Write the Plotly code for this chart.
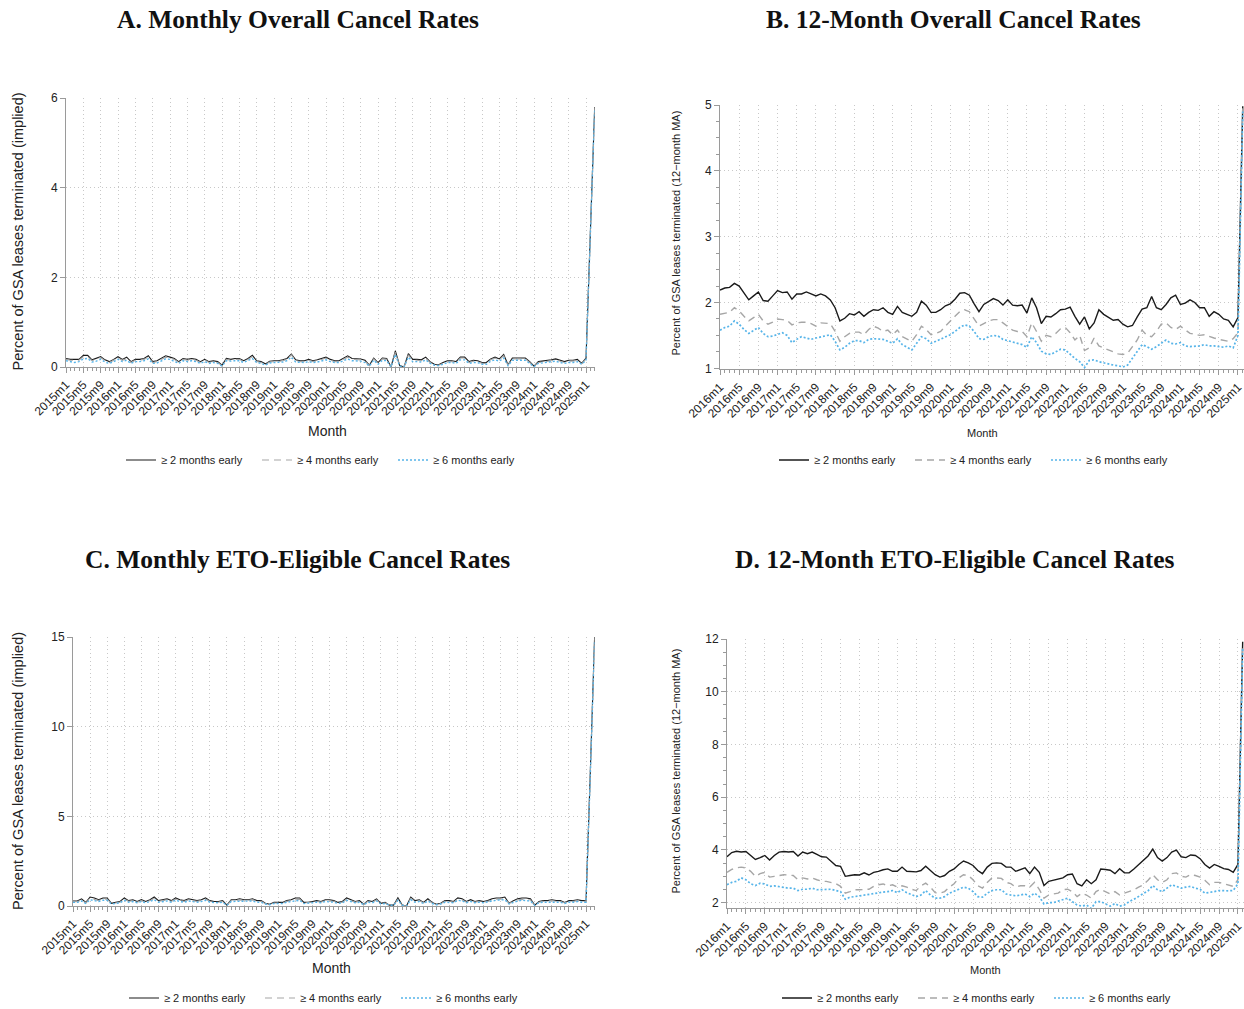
import plotly.graph_objects as go

W, H = 1244, 1009

# ---------------- data ----------------
SERIES_NAMES = ["≥ 2 months early", "≥ 4 months early", "≥ 6 months early"]

A_START = "2015m1"
A_TICKS = ["2015m1", "2015m5", "2015m9", "2016m1", "2016m5", "2016m9", "2017m1", "2017m5", "2017m9",
           "2018m1", "2018m5", "2018m9", "2019m1", "2019m5", "2019m9", "2020m1", "2020m5", "2020m9",
           "2021m1", "2021m5", "2021m9", "2022m1", "2022m5", "2022m9", "2023m1", "2023m5", "2023m9",
           "2024m1", "2024m5", "2024m9", "2025m1"]
B_START = "2016m1"
B_TICKS = ["2016m1", "2016m5", "2016m9", "2017m1", "2017m5", "2017m9",
           "2018m1", "2018m5", "2018m9", "2019m1", "2019m5", "2019m9", "2020m1", "2020m5", "2020m9",
           "2021m1", "2021m5", "2021m9", "2022m1", "2022m5", "2022m9", "2023m1", "2023m5", "2023m9",
           "2024m1", "2024m5", "2024m9", "2025m1"]

# Panel A: monthly overall cancel rates (2015m1 - 2025m3)
a_2m = [0.19, 0.17, 0.17, 0.17, 0.26, 0.26, 0.16, 0.19, 0.23, 0.16, 0.12, 0.17,
        0.23, 0.17, 0.22, 0.12, 0.17, 0.17, 0.19, 0.25, 0.12, 0.14, 0.19, 0.25,
        0.22, 0.19, 0.12, 0.19, 0.17, 0.19, 0.17, 0.12, 0.17, 0.12, 0.14, 0.12,
        0.04, 0.19, 0.17, 0.19, 0.19, 0.14, 0.19, 0.26, 0.14, 0.12, 0.07, 0.13,
        0.14, 0.14, 0.16, 0.19, 0.29, 0.16, 0.14, 0.14, 0.17, 0.14, 0.16, 0.19,
        0.22, 0.17, 0.14, 0.14, 0.19, 0.25, 0.19, 0.19, 0.18, 0.15, 0.04, 0.20,
        0.10, 0.20, 0.19, 0.00, 0.36, 0.03, 0.00, 0.30, 0.17, 0.17, 0.16, 0.22,
        0.12, 0.06, 0.05, 0.10, 0.14, 0.14, 0.12, 0.22, 0.22, 0.12, 0.15, 0.14,
        0.10, 0.10, 0.18, 0.22, 0.18, 0.28, 0.05, 0.20, 0.20, 0.20, 0.20, 0.12,
        0.02, 0.12, 0.13, 0.14, 0.16, 0.18, 0.15, 0.12, 0.15, 0.15, 0.17, 0.08,
        0.20, 3.00, 5.80]
a_4m = [0.17, 0.15, 0.15, 0.15, 0.23, 0.23, 0.14, 0.17, 0.21, 0.14, 0.10, 0.15,
        0.20, 0.15, 0.19, 0.10, 0.15, 0.15, 0.17, 0.22, 0.10, 0.12, 0.17, 0.22,
        0.20, 0.17, 0.10, 0.17, 0.15, 0.17, 0.15, 0.10, 0.15, 0.10, 0.12, 0.10,
        0.03, 0.17, 0.15, 0.17, 0.17, 0.12, 0.17, 0.23, 0.12, 0.10, 0.06, 0.11,
        0.12, 0.12, 0.14, 0.17, 0.27, 0.14, 0.12, 0.12, 0.15, 0.12, 0.14, 0.17,
        0.20, 0.15, 0.12, 0.12, 0.17, 0.22, 0.17, 0.17, 0.16, 0.13, 0.03, 0.18,
        0.08, 0.18, 0.17, 0.00, 0.33, 0.02, 0.00, 0.27, 0.15, 0.15, 0.14, 0.20,
        0.10, 0.05, 0.04, 0.08, 0.12, 0.12, 0.10, 0.20, 0.20, 0.10, 0.13, 0.12,
        0.08, 0.08, 0.16, 0.20, 0.16, 0.25, 0.04, 0.18, 0.18, 0.18, 0.18, 0.10,
        0.02, 0.10, 0.11, 0.12, 0.14, 0.16, 0.13, 0.10, 0.13, 0.13, 0.15, 0.07,
        0.18, 2.98, 5.78]
a_6m = [0.14, 0.12, 0.10, 0.12, 0.18, 0.19, 0.11, 0.13, 0.17, 0.11, 0.08, 0.12,
        0.17, 0.12, 0.15, 0.08, 0.12, 0.12, 0.14, 0.18, 0.08, 0.09, 0.13, 0.18,
        0.17, 0.13, 0.08, 0.14, 0.12, 0.14, 0.12, 0.08, 0.12, 0.08, 0.10, 0.08,
        0.02, 0.14, 0.13, 0.14, 0.14, 0.10, 0.14, 0.19, 0.10, 0.08, 0.04, 0.09,
        0.10, 0.10, 0.11, 0.14, 0.22, 0.11, 0.10, 0.10, 0.12, 0.10, 0.11, 0.14,
        0.16, 0.12, 0.10, 0.10, 0.14, 0.18, 0.14, 0.14, 0.13, 0.10, 0.02, 0.15,
        0.06, 0.15, 0.14, 0.00, 0.28, 0.02, 0.00, 0.22, 0.12, 0.12, 0.11, 0.16,
        0.08, 0.04, 0.03, 0.06, 0.10, 0.10, 0.08, 0.16, 0.16, 0.08, 0.10, 0.10,
        0.06, 0.06, 0.13, 0.16, 0.13, 0.20, 0.03, 0.15, 0.15, 0.15, 0.15, 0.08,
        0.01, 0.08, 0.09, 0.10, 0.11, 0.13, 0.10, 0.08, 0.10, 0.10, 0.12, 0.06,
        0.15, 2.95, 5.75]

# Panel B: 12-month MA overall (2016m1 - 2025m2)
b_2m = [2.19, 2.22, 2.23, 2.29, 2.25, 2.14, 2.04, 2.10, 2.16, 2.03, 2.02, 2.10,
        2.18, 2.15, 2.16, 2.05, 2.13, 2.13, 2.16, 2.13, 2.10, 2.13, 2.10, 2.04,
        1.92, 1.72, 1.76, 1.83, 1.81, 1.86, 1.79, 1.85, 1.89, 1.88, 1.92, 1.85,
        1.82, 1.94, 1.85, 1.82, 1.79, 1.85, 2.02, 1.96, 1.85, 1.85, 1.89, 1.95,
        1.98, 2.05, 2.14, 2.15, 2.11, 1.98, 1.86, 1.97, 2.01, 2.06, 2.03, 1.96,
        2.04, 1.96, 1.95, 1.96, 1.84, 2.07, 1.92, 1.68, 1.79, 1.78, 1.83, 1.89,
        1.90, 1.93, 1.79, 1.67, 1.78, 1.60, 1.69, 1.89, 1.82, 1.78, 1.73, 1.74,
        1.67, 1.63, 1.65, 1.78, 1.90, 1.92, 2.09, 1.92, 1.89, 1.97, 2.07, 2.11,
        1.97, 1.99, 2.04, 2.00, 1.92, 1.92, 1.79, 1.86, 1.82, 1.75, 1.73, 1.63,
        1.77, 4.98]
b_4m = [1.82, 1.84, 1.85, 1.92, 1.87, 1.79, 1.72, 1.77, 1.82, 1.72, 1.67, 1.70,
        1.75, 1.74, 1.73, 1.66, 1.69, 1.70, 1.70, 1.68, 1.64, 1.69, 1.69, 1.68,
        1.56, 1.41, 1.48, 1.53, 1.55, 1.55, 1.51, 1.59, 1.64, 1.61, 1.56, 1.58,
        1.51, 1.58, 1.48, 1.44, 1.41, 1.51, 1.64, 1.59, 1.51, 1.53, 1.56, 1.64,
        1.72, 1.79, 1.86, 1.89, 1.86, 1.74, 1.64, 1.68, 1.72, 1.74, 1.74, 1.69,
        1.64, 1.58, 1.56, 1.56, 1.48, 1.69, 1.56, 1.41, 1.50, 1.48, 1.53, 1.60,
        1.62, 1.54, 1.43, 1.50, 1.27, 1.31, 1.46, 1.34, 1.31, 1.28, 1.26, 1.22,
        1.21, 1.23, 1.33, 1.43, 1.58, 1.50, 1.48, 1.56, 1.67, 1.69, 1.62, 1.59,
        1.64, 1.59, 1.53, 1.52, 1.50, 1.51, 1.48, 1.46, 1.44, 1.43, 1.41, 1.45,
        1.54, 4.95]
b_6m = [1.58, 1.62, 1.64, 1.72, 1.67, 1.59, 1.53, 1.57, 1.62, 1.53, 1.48, 1.49,
        1.51, 1.54, 1.50, 1.39, 1.44, 1.48, 1.46, 1.44, 1.46, 1.48, 1.50, 1.51,
        1.41, 1.28, 1.32, 1.38, 1.42, 1.42, 1.39, 1.44, 1.45, 1.45, 1.44, 1.41,
        1.38, 1.45, 1.36, 1.32, 1.28, 1.38, 1.48, 1.45, 1.38, 1.41, 1.44, 1.48,
        1.51, 1.56, 1.62, 1.66, 1.64, 1.56, 1.45, 1.44, 1.48, 1.50, 1.49, 1.44,
        1.42, 1.41, 1.38, 1.36, 1.32, 1.48, 1.39, 1.26, 1.22, 1.21, 1.25, 1.29,
        1.28, 1.21, 1.15, 1.10, 1.01, 1.12, 1.13, 1.10, 1.08, 1.06, 1.05, 1.04,
        1.02, 1.05, 1.15, 1.25, 1.36, 1.33, 1.29, 1.33, 1.38, 1.43, 1.38, 1.37,
        1.39, 1.34, 1.33, 1.33, 1.34, 1.36, 1.34, 1.34, 1.33, 1.32, 1.34, 1.31,
        1.50, 4.90]

# Panel C: monthly ETO-eligible cancel rates (2015m1 - 2025m3)
c_2m = [0.28, 0.28, 0.40, 0.20, 0.50, 0.45, 0.35, 0.45, 0.45, 0.15, 0.20, 0.25,
        0.45, 0.30, 0.35, 0.25, 0.35, 0.25, 0.35, 0.50, 0.30, 0.35, 0.40, 0.30,
        0.45, 0.35, 0.30, 0.40, 0.35, 0.30, 0.35, 0.45, 0.30, 0.25, 0.25, 0.30,
        0.05, 0.35, 0.35, 0.40, 0.35, 0.35, 0.40, 0.30, 0.30, 0.15, 0.10, 0.20,
        0.20, 0.20, 0.30, 0.35, 0.45, 0.45, 0.20, 0.20, 0.25, 0.30, 0.25, 0.35,
        0.35, 0.30, 0.20, 0.25, 0.45, 0.35, 0.25, 0.30, 0.10, 0.30, 0.25, 0.40,
        0.15, 0.20, 0.05, 0.05, 0.45, 0.05, 0.00, 0.50, 0.30, 0.35, 0.20, 0.40,
        0.20, 0.10, 0.15, 0.30, 0.30, 0.25, 0.45, 0.40, 0.25, 0.35, 0.25, 0.30,
        0.25, 0.30, 0.40, 0.45, 0.45, 0.50, 0.15, 0.30, 0.40, 0.45, 0.45, 0.40,
        0.05, 0.25, 0.30, 0.30, 0.35, 0.30, 0.30, 0.20, 0.30, 0.30, 0.35, 0.30,
        0.30, 7.50, 15.00]
c_4m = [0.24, 0.24, 0.34, 0.17, 0.43, 0.38, 0.30, 0.38, 0.38, 0.13, 0.17, 0.21,
        0.38, 0.26, 0.30, 0.21, 0.30, 0.21, 0.30, 0.43, 0.26, 0.30, 0.34, 0.26,
        0.38, 0.30, 0.26, 0.34, 0.30, 0.26, 0.30, 0.38, 0.26, 0.21, 0.21, 0.26,
        0.04, 0.30, 0.30, 0.34, 0.30, 0.30, 0.34, 0.26, 0.26, 0.13, 0.09, 0.17,
        0.17, 0.17, 0.26, 0.30, 0.38, 0.38, 0.17, 0.17, 0.21, 0.26, 0.21, 0.30,
        0.30, 0.26, 0.17, 0.21, 0.38, 0.30, 0.21, 0.26, 0.09, 0.26, 0.21, 0.34,
        0.13, 0.17, 0.04, 0.04, 0.38, 0.04, 0.00, 0.43, 0.26, 0.30, 0.17, 0.34,
        0.17, 0.09, 0.13, 0.26, 0.26, 0.21, 0.38, 0.34, 0.21, 0.30, 0.21, 0.26,
        0.21, 0.26, 0.34, 0.38, 0.38, 0.43, 0.13, 0.26, 0.34, 0.38, 0.38, 0.34,
        0.04, 0.21, 0.26, 0.26, 0.30, 0.26, 0.26, 0.17, 0.26, 0.26, 0.30, 0.26,
        0.26, 7.40, 14.90]
c_6m = [0.20, 0.20, 0.28, 0.14, 0.35, 0.32, 0.25, 0.32, 0.32, 0.11, 0.14, 0.18,
        0.32, 0.21, 0.25, 0.18, 0.25, 0.18, 0.25, 0.35, 0.21, 0.25, 0.28, 0.21,
        0.32, 0.25, 0.21, 0.28, 0.25, 0.21, 0.25, 0.32, 0.21, 0.18, 0.18, 0.21,
        0.04, 0.25, 0.25, 0.28, 0.25, 0.25, 0.28, 0.21, 0.21, 0.11, 0.07, 0.14,
        0.14, 0.14, 0.21, 0.25, 0.32, 0.32, 0.14, 0.14, 0.18, 0.21, 0.18, 0.25,
        0.25, 0.21, 0.14, 0.18, 0.32, 0.25, 0.18, 0.21, 0.07, 0.21, 0.18, 0.28,
        0.11, 0.14, 0.04, 0.04, 0.32, 0.04, 0.00, 0.35, 0.21, 0.25, 0.14, 0.28,
        0.14, 0.07, 0.11, 0.21, 0.21, 0.18, 0.32, 0.28, 0.18, 0.25, 0.18, 0.21,
        0.18, 0.21, 0.28, 0.32, 0.32, 0.35, 0.11, 0.21, 0.28, 0.32, 0.32, 0.28,
        0.04, 0.18, 0.21, 0.21, 0.25, 0.21, 0.21, 0.14, 0.21, 0.21, 0.25, 0.21,
        0.21, 7.30, 14.80]

# Panel D: 12-month MA ETO-eligible (2016m1 - 2025m2)
d_2m = [3.74, 3.90, 3.95, 3.92, 3.94, 3.79, 3.64, 3.71, 3.79, 3.62, 3.79, 3.92,
        3.94, 3.92, 3.94, 3.77, 3.92, 3.86, 3.92, 3.83, 3.74, 3.73, 3.58, 3.41,
        3.38, 3.00, 3.03, 3.06, 3.05, 3.13, 3.05, 3.15, 3.19, 3.25, 3.28, 3.19,
        3.19, 3.35, 3.19, 3.19, 3.17, 3.22, 3.38, 3.22, 3.06, 2.97, 3.03, 3.19,
        3.28, 3.45, 3.58, 3.51, 3.41, 3.22, 3.10, 3.35, 3.49, 3.51, 3.49, 3.35,
        3.35, 3.19, 3.26, 3.32, 3.10, 3.35, 3.15, 2.65, 2.81, 2.85, 2.90, 2.94,
        3.06, 3.09, 2.72, 2.64, 2.87, 2.72, 2.87, 3.28, 3.26, 3.23, 3.10, 3.29,
        3.13, 3.13, 3.28, 3.45, 3.60, 3.77, 4.03, 3.71, 3.58, 3.71, 3.92, 3.99,
        3.74, 3.71, 3.81, 3.79, 3.67, 3.45, 3.31, 3.45, 3.38, 3.29, 3.26, 3.15,
        3.45, 11.90]
d_4m = [3.15, 3.26, 3.32, 3.35, 3.32, 3.19, 3.00, 3.10, 3.15, 2.97, 3.00, 3.03,
        3.06, 3.05, 3.03, 2.87, 2.94, 2.90, 2.94, 2.87, 2.81, 2.81, 2.77, 2.72,
        2.62, 2.36, 2.42, 2.49, 2.49, 2.49, 2.51, 2.62, 2.68, 2.71, 2.64, 2.68,
        2.59, 2.64, 2.59, 2.51, 2.46, 2.64, 2.74, 2.59, 2.38, 2.36, 2.42, 2.59,
        2.72, 2.94, 3.06, 3.03, 2.87, 2.64, 2.55, 2.77, 2.94, 2.94, 2.92, 2.77,
        2.72, 2.59, 2.64, 2.64, 2.59, 2.77, 2.51, 2.17, 2.29, 2.33, 2.36, 2.49,
        2.51, 2.42, 2.23, 2.36, 2.29, 2.17, 2.42, 2.51, 2.42, 2.33, 2.42, 2.29,
        2.36, 2.42, 2.49, 2.59, 2.68, 2.85, 3.06, 2.87, 2.77, 2.87, 3.10, 3.13,
        3.00, 2.97, 3.06, 3.03, 2.97, 2.85, 2.68, 2.77, 2.77, 2.72, 2.68, 2.62,
        2.87, 11.80]
d_6m = [2.68, 2.77, 2.81, 2.94, 2.87, 2.72, 2.65, 2.74, 2.71, 2.62, 2.64, 2.62,
        2.58, 2.55, 2.55, 2.46, 2.51, 2.51, 2.55, 2.49, 2.49, 2.51, 2.51, 2.46,
        2.42, 2.13, 2.21, 2.23, 2.26, 2.29, 2.32, 2.36, 2.38, 2.40, 2.42, 2.46,
        2.38, 2.49, 2.38, 2.29, 2.23, 2.29, 2.46, 2.29, 2.17, 2.17, 2.23, 2.36,
        2.42, 2.51, 2.59, 2.55, 2.42, 2.23, 2.21, 2.36, 2.46, 2.49, 2.49, 2.33,
        2.29, 2.26, 2.29, 2.33, 2.23, 2.36, 2.23, 1.95, 2.00, 2.00, 2.06, 2.13,
        2.17, 2.04, 1.91, 1.87, 1.91, 1.78, 2.04, 2.04, 1.97, 1.87, 1.97, 1.87,
        1.91, 2.04, 2.13, 2.23, 2.36, 2.45, 2.65, 2.49, 2.42, 2.55, 2.68, 2.62,
        2.55, 2.59, 2.62, 2.55, 2.51, 2.36, 2.38, 2.42, 2.46, 2.45, 2.45, 2.46,
        2.72, 11.70]


def month_index(lbl):
    y, m = lbl.split("m")
    return (int(y) - 2015) * 12 + int(m) - 1


def month_label(i):
    return f"{2015 + i // 12}m{i % 12 + 1}"


# ---------------- styles ----------------
COLORS = ["#1a1a1a", "#a6a6a6", "#56b4e9"]
DASHES = ["solid", "7px,5px", "2px,2px"]
SANS = "Liberation Sans, Arial, sans-serif"
SERIF = "Liberation Serif, Times New Roman, serif"
AXC = "#9a9a9a"
GRIDC = "#c8c8c8"
GRIDDASH = "1px,3px"


def px_x(p):
    return p / W


def px_y(p):
    return (H - p) / H


panels = [
    dict(key="", data=[a_2m, a_4m, a_6m], start=A_START, ticks=A_TICKS,
         xd=(66, 594.7), yd=(367, 98), xr=(0, 122), yr=(0, 6), dtick=2, minor=None,
         lw=1.1, legend="legend", tfs=12),
    dict(key="2", data=[b_2m, b_4m, b_6m], start=B_START, ticks=B_TICKS,
         xd=(720, 1244), yd=(369.3, 105), xr=(12, 12 + 524 / 4.796), yr=(0.985, 5), dtick=1, minor=0.25,
         lw=1.4, legend="legend2", tfs=12),
    dict(key="3", data=[c_2m, c_4m, c_6m], start=A_START, ticks=A_TICKS,
         xd=(73, 594.6), yd=(906, 637), xr=(0, 122), yr=(0, 15), dtick=5, minor=None,
         lw=1.1, legend="legend3", tfs=12),
    dict(key="4", data=[d_2m, d_4m, d_6m], start=B_START, ticks=B_TICKS,
         xd=(727, 1244), yd=(908.3, 639), xr=(12, 12 + 517 / 4.731), yr=(1.787, 12), dtick=2, minor=0.5,
         lw=1.4, legend="legend4", tfs=12),
]

fig = go.Figure()
layout = {}
for p in panels:
    k = p["key"]
    x0 = month_index(p["start"])
    for vals, name, col, dash in zip(p["data"], SERIES_NAMES, COLORS, DASHES):
        xs = [x0 + i for i in range(len(vals))]
        fig.add_trace(go.Scatter(
            x=xs, y=vals, mode="lines", name=name,
            line=dict(color=col, width=p["lw"] + (0.3 if dash == "2px,2px" else 0), dash=dash),
            customdata=[month_label(v) for v in xs],
            hovertemplate="%{customdata}: %{y:.2f}<extra>" + name + "</extra>",
            xaxis="x" + k, yaxis="y" + k, legend=p["legend"],
        ))
    tickvals = [month_index(t) for t in p["ticks"]]
    layout["xaxis" + k] = dict(
        domain=[px_x(p["xd"][0]), min(1.0, px_x(p["xd"][1]))], range=list(p["xr"]),
        anchor="y" + k, tickmode="array", tickvals=tickvals, ticktext=p["ticks"],
        tickangle=-45, ticks="outside", ticklen=5, tickcolor=AXC, tickwidth=1,
        ticklabeloverflow="allow",
        showline=True, linecolor=AXC, linewidth=1, zeroline=False, automargin=False,
        showgrid=True, gridcolor=GRIDC, griddash=GRIDDASH, gridwidth=1,
        tickfont=dict(family=SANS, size=p["tfs"], color="#222"),
        minor=dict(tickmode="linear", tick0=0, dtick=1, ticks="outside", ticklen=3,
                   tickcolor=AXC, showgrid=False),
    )
    yax = dict(
        domain=[px_y(p["yd"][0]), px_y(p["yd"][1])], range=list(p["yr"]),
        anchor="x" + k, tickmode="linear", tick0=0, dtick=p["dtick"],
        ticks="outside", ticklen=5, tickcolor=AXC, tickwidth=1,
        showline=True, linecolor=AXC, linewidth=1, zeroline=False, automargin=False,
        showgrid=True, gridcolor=GRIDC, griddash=GRIDDASH, gridwidth=1,
        tickfont=dict(family=SANS, size=p["tfs"], color="#222"),
    )
    if p["minor"]:
        yax["minor"] = dict(tickmode="linear", tick0=0, dtick=p["minor"], ticks="outside",
                            ticklen=3, tickcolor=AXC, showgrid=False)
    layout["yaxis" + k] = yax

legend_common = dict(orientation="h", xanchor="left", yanchor="middle",
                     font=dict(family=SANS, size=11, color="#222"),
                     bgcolor="rgba(0,0,0,0)", itemwidth=30, entrywidth=91,
                     itemclick=False, itemdoubleclick=False)
layout["legend"] = dict(legend_common, x=px_x(121), y=px_y(460))
layout["legend2"] = dict(legend_common, x=px_x(774), y=px_y(460))
layout["legend3"] = dict(legend_common, x=px_x(124), y=px_y(998))
layout["legend4"] = dict(legend_common, x=px_x(777), y=px_y(998))

titles = [("A. Monthly Overall Cancel Rates", 297.5, 20),
          ("B. 12-Month Overall Cancel Rates", 953.5, 20),
          ("C. Monthly ETO-Eligible Cancel Rates", 297.5, 559),
          ("D. 12-Month ETO-Eligible Cancel Rates", 954, 559)]
ann = []
for t, x, y in titles:
    ann.append(dict(text="<b>" + t + "</b>", x=px_x(x), y=px_y(y), xref="paper", yref="paper",
                    showarrow=False, xanchor="center", yanchor="middle",
                    font=dict(family=SERIF, size=25.5, color="#111")))

ytitles = [("Percent of GSA leases terminated (implied)", 18, 231.5, 14.5),
           ("Percent of GSA leases terminated (12\u2212month MA)", 675, 233.5, 11),
           ("Percent of GSA leases terminated (implied)", 18, 771, 14.5),
           ("Percent of GSA leases terminated (12\u2212month MA)", 675, 771.5, 11)]
for t, x, y, s in ytitles:
    ann.append(dict(text=t, x=px_x(x), y=px_y(y), xref="paper", yref="paper", textangle=-90,
                    showarrow=False, xanchor="center", yanchor="middle",
                    font=dict(family=SANS, size=s, color="#222")))

xtitles = [("Month", 327, 431, 14), ("Month", 982, 433, 11),
           ("Month", 331, 968, 14), ("Month", 985, 970, 11)]
for t, x, y, s in xtitles:
    ann.append(dict(text=t, x=px_x(x), y=px_y(y), xref="paper", yref="paper",
                    showarrow=False, xanchor="center", yanchor="middle",
                    font=dict(family=SANS, size=s, color="#222")))

fig.update_layout(
    width=W, height=H, margin=dict(l=0, r=0, t=0, b=0, autoexpand=False),
    paper_bgcolor="white", plot_bgcolor="white",
    annotations=ann, showlegend=True, **layout,
)

fig.write_html("out.html", config={"displayModeBar": False})
